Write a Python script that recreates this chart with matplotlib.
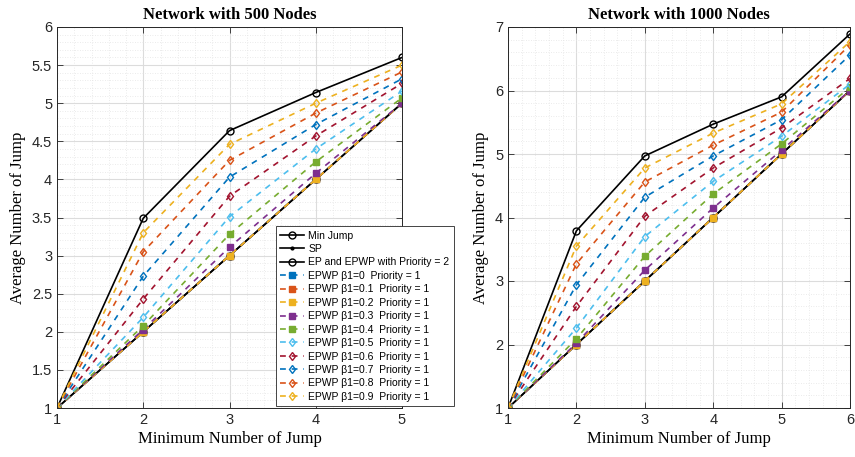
import matplotlib
matplotlib.use("Agg")
import matplotlib.pyplot as plt
from matplotlib.ticker import MultipleLocator, FuncFormatter

# ---------------- data ----------------
x500 = [1, 2, 3, 4, 5]
min_jump_500 = [1, 2, 3, 4, 5]
sp_500 = [1, 2, 3, 4, 5]
ep_500 = [1, 3.49, 4.64, 5.14, 5.60]
b00_500 = [1, 2, 3, 4, 5]
b01_500 = [1, 2, 3, 4, 5]
b02_500 = [1, 2, 3, 4, 5]
b03_500 = [1, 2.03, 3.11, 4.08, 5.00]
b04_500 = [1, 2.08, 3.28, 4.23, 5.07]
b05_500 = [1, 2.19, 3.51, 4.40, 5.16]
b06_500 = [1, 2.43, 3.78, 4.57, 5.26]
b07_500 = [1, 2.73, 4.03, 4.72, 5.32]
b08_500 = [1, 3.05, 4.25, 4.87, 5.41]
b09_500 = [1, 3.30, 4.46, 5.00, 5.50]

x1000 = [1, 2, 3, 4, 5, 6]
min_jump_1000 = [1, 2, 3, 4, 5, 6]
sp_1000 = [1, 2, 3, 4, 5, 6]
ep_1000 = [1, 3.79, 4.97, 5.47, 5.90, 6.89]
b00_1000 = [1, 2, 3, 4, 5, 6]
b01_1000 = [1, 2, 3, 4, 5, 6]
b02_1000 = [1, 2, 3, 4, 5, 6]
b03_1000 = [1, 2.02, 3.17, 4.15, 5.06, 6.00]
b04_1000 = [1, 2.09, 3.39, 4.37, 5.16, 6.05]
b05_1000 = [1, 2.26, 3.70, 4.57, 5.28, 6.10]
b06_1000 = [1, 2.60, 4.02, 4.78, 5.41, 6.19]
b07_1000 = [1, 2.94, 4.32, 4.97, 5.54, 6.56]
b08_1000 = [1, 3.27, 4.56, 5.14, 5.66, 6.72]
b09_1000 = [1, 3.55, 4.78, 5.33, 5.79, 6.77]

beta_labels = ["0", "0.1", "0.2", "0.3", "0.4", "0.5", "0.6", "0.7", "0.8", "0.9"]
titles = ["Network with 500 Nodes", "Network with 1000 Nodes"]
xlabel = "Minimum Number of Jump"
ylabel = "Average Number of Jump"

series_500 = [b00_500, b01_500, b02_500, b03_500, b04_500,
              b05_500, b06_500, b07_500, b08_500, b09_500]
series_1000 = [b00_1000, b01_1000, b02_1000, b03_1000, b04_1000,
               b05_1000, b06_1000, b07_1000, b08_1000, b09_1000]

colors = ["#0072BD", "#D95319", "#EDB120", "#7E2F8E", "#77AC30",
          "#4DBEEE", "#A2142F", "#0072BD", "#D95319", "#EDB120"]
markers = ["s", "s", "s", "s", "s", "d", "d", "d", "d", "d"]
filled = [True, True, True, True, True, False, False, False, False, False]

fig = plt.figure(figsize=(8.55, 4.57), dpi=100)
ax1 = fig.add_axes([57/855, 49/457, 345/855, 381/457])
ax2 = fig.add_axes([508/855, 49/457, 342/855, 381/457])

serif = "Liberation Serif"
sans = "Liberation Sans"
axcol = "#262626"

fmt = FuncFormatter(lambda v, p: ("%g" % round(v, 4)))


def draw(ax, x, mj, sp, ep, series, ylim, ymaj, ymin):
    hs = []
    hs += ax.plot(x, mj, "-", color="black", lw=1.2, marker="o", ms=5,
                  mfc="none", mew=1.0, label="Min Jump")
    hs += ax.plot(x, sp, "-", color="black", lw=1.2, marker=".", ms=4,
                  label="SP")
    hs += ax.plot(x, ep, "-", color="black", lw=1.2, marker="o", ms=5,
                  mfc="none", mew=1.0, label="EP and EPWP with Priority = 2")
    for s, c, m, f, b in zip(series, colors, markers, filled, beta_labels):
        hs += ax.plot(x, s, "--", color=c, lw=1.2, dashes=(3.5, 3.5), marker=m,
                      ms=4.5, mfc=c if f else "none", mec=c, mew=1.0,
                      label="EPWP \u03b21=" + b + "  Priority = 1")
    ax.set_xlim(x[0], x[-1])
    ax.set_ylim(*ylim)
    ax.xaxis.set_major_locator(MultipleLocator(1))
    ax.xaxis.set_minor_locator(MultipleLocator(0.2))
    ax.yaxis.set_major_locator(MultipleLocator(ymaj))
    ax.yaxis.set_minor_locator(MultipleLocator(ymin))
    ax.yaxis.set_major_formatter(fmt)
    ax.xaxis.set_major_formatter(fmt)
    ax.grid(True, which="major", color="#dcdcdc", lw=0.8, ls="-")
    ax.grid(True, which="minor", color="#e4e4e4", lw=0.6, ls=(0, (1, 2)))
    ax.set_axisbelow(True)
    ax.tick_params(which="both", direction="in", top=True, right=True,
                   colors=axcol, labelsize=10.5, length=4, width=0.6)
    ax.tick_params(which="minor", length=0)
    for sp_ in ax.spines.values():
        sp_.set_color(axcol)
        sp_.set_linewidth(0.7)
    for lab in ax.get_xticklabels() + ax.get_yticklabels():
        lab.set_fontfamily(sans)
    return hs


hs = draw(ax1, x500, min_jump_500, sp_500, ep_500, series_500, (1, 6), 0.5, 0.1)
draw(ax2, x1000, min_jump_1000, sp_1000, ep_1000, series_1000, (1, 7), 1, 0.2)

for ax, t in zip([ax1, ax2], titles):
    ax.set_title(t, fontfamily=serif, fontweight="bold", fontsize=12, pad=6)
    ax.set_xlabel(xlabel, fontfamily=serif, fontsize=12, labelpad=3)
    ax.set_ylabel(ylabel, fontfamily=serif, fontsize=12, labelpad=4)

leg = fig.legend(handles=hs, loc="lower left",
                 bbox_to_anchor=(276/855, 51/457),
                 prop={"family": sans, "size": 7.5},
                 frameon=True, fancybox=False, framealpha=1,
                 edgecolor=axcol, borderpad=0.4, labelspacing=0.33,
                 handlelength=2.3, handletextpad=0.4, borderaxespad=0)
leg.get_frame().set_linewidth(0.6)

fig.savefig("out.png", dpi=100)
